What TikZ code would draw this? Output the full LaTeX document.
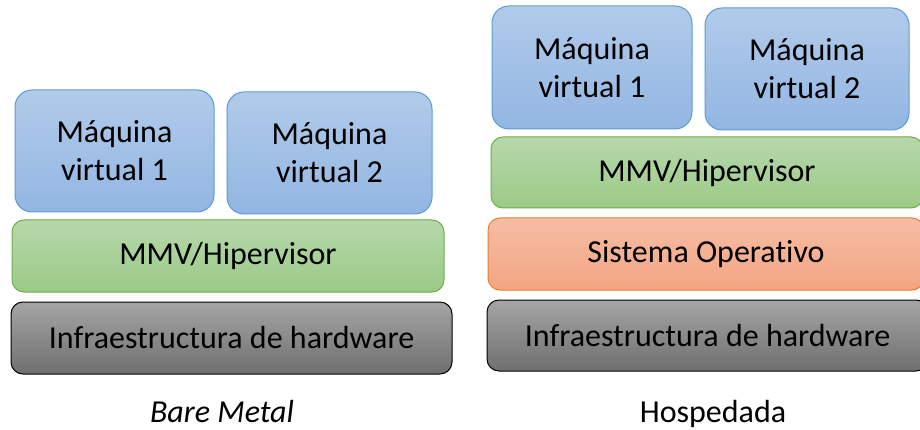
\documentclass[tikz,border=0pt]{standalone}
\usepackage{fontspec}
\setmainfont{Carlito}[Ligatures=NoCommon]
\definecolor{vmtop}{HTML}{B1CBEA}
\definecolor{vmbot}{HTML}{92B6E2}
\definecolor{vmline}{HTML}{5B9BD5}
\definecolor{grtop}{HTML}{B6D8AA}
\definecolor{grbot}{HTML}{9BCA87}
\definecolor{grline}{HTML}{70AD47}
\definecolor{ortop}{HTML}{F5BDA5}
\definecolor{orbot}{HTML}{F4A582}
\definecolor{orline}{HTML}{ED7D31}
\definecolor{gytop}{HTML}{A5A5A5}
\definecolor{gybot}{HTML}{6F6F6F}
\tikzset{
  box/.style={rounded corners=12pt, line width=1pt, inner sep=0pt, align=center,
    font=\fontsize{32}{38}\selectfont},
  vm/.style={box, rounded corners=17pt, draw=vmline, top color=vmtop, bottom color=vmbot},
  hyp/.style={box, draw=grline, top color=grtop, bottom color=grbot},
  os/.style={box, draw=orline, top color=ortop, bottom color=orbot},
  hw/.style={box, draw=black, top color=gytop, bottom color=gybot},
  caption/.style={inner sep=0pt, anchor=base, font=\fontsize{32}{36}\selectfont}
}
\begin{document}
\begin{tikzpicture}[x=1pt,y=-1pt]
\useasboundingbox (0,0) rectangle (920,430);
\clip (0,0) rectangle (920,430);
% Bare metal
\node[vm, minimum width=199pt, minimum height=122pt] (l1) at (114.5,151) {Máquina\\virtual 1};
\node[vm, minimum width=205pt, minimum height=122pt] (l2) at (329.5,153) {Máquina\\virtual 2};
\node[hyp, minimum width=432pt, minimum height=72pt] (lh) at (228,256) {MMV/Hipervisor};
\node[hw, minimum width=441pt, minimum height=72pt] (lw) at (231.5,338) {Infraestructura de hardware};
\node[caption, font=\fontsize{32}{36}\selectfont\itshape] (lc) at (222,422) {Bare Metal};
% Hosted
\node[vm, minimum width=200pt, minimum height=123pt] (r1) at (592,67.5) {Máquina\\virtual 1};
\node[vm, minimum width=204pt, minimum height=122pt] (r2) at (807,69) {Máquina\\virtual 2};
\node[hyp, minimum width=432pt, minimum height=71pt] (rh) at (707,172.5) {MMV/Hipervisor};
\node[os, minimum width=436pt, minimum height=72pt] (ro) at (706,254) {Sistema Operativo};
\node[hw, minimum width=441pt, minimum height=71pt] (rw) at (707.5,335.5) {Infraestructura de hardware};
\node[caption] (rc) at (713,422) {Hospedada};
\end{tikzpicture}
\end{document}
